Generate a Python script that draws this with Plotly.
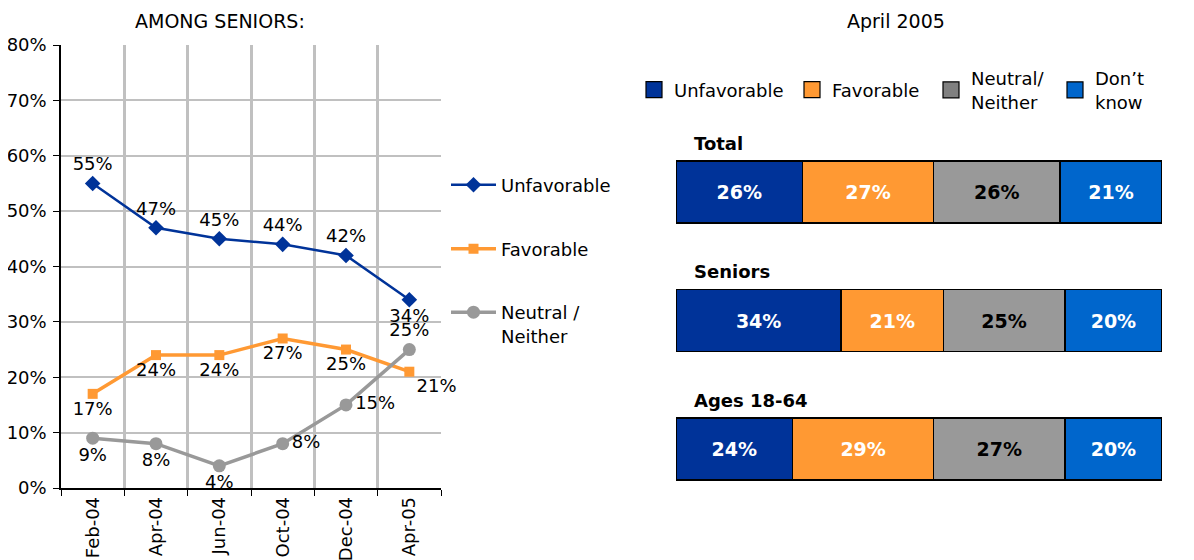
import plotly.graph_objects as go

# ---- data ----
months = ["Feb-04", "Apr-04", "Jun-04", "Oct-04", "Dec-04", "Apr-05"]
seniors_unfavorable = [55, 47, 45, 44, 42, 34]
seniors_favorable = [17, 24, 24, 27, 25, 21]
seniors_neutral = [9, 8, 4, 8, 15, 25]

groups = ["Total", "Seniors", "Ages 18-64"]
bar_unfavorable = [26, 34, 24]
bar_favorable = [27, 21, 29]
bar_neutral = [26, 25, 27]
bar_dontknow = [21, 20, 20]

FONT = "DejaVu Sans, Verdana, sans-serif"
FS = 18
NAVY = "#003399"
ORANGE = "#FF9933"
GRAY = "#999999"
BLUE = "#0066CC"
OFF = 8                      # page body margin
W, H = 1194 - OFF, 560 - OFF


def px(x):
    return (x - OFF) / W


def py(y):
    return 1 - (y - OFF) / H


fig = go.Figure()

# ---- left line chart ----
fig.add_trace(go.Scatter(
    x=months, y=seniors_unfavorable, name="Unfavorable", mode="lines+markers+text",
    line=dict(color=NAVY, width=2.5), marker=dict(symbol="diamond", size=12, color=NAVY),
    text=[f"{v}%" for v in seniors_unfavorable],
    textposition=["top center"] * 5 + ["bottom center"],
    textfont=dict(family=FONT, size=FS, color="black"),
    xaxis="x", yaxis="y", legend="legend", cliponaxis=False))
fig.add_trace(go.Scatter(
    x=months, y=seniors_favorable, name="Favorable", mode="lines+markers+text",
    line=dict(color=ORANGE, width=3.5), marker=dict(symbol="square", size=10, color=ORANGE),
    text=[f"{v}%" for v in seniors_favorable],
    textposition=["bottom center"] * 5 + ["bottom right"],
    textfont=dict(family=FONT, size=FS, color="black"),
    xaxis="x", yaxis="y", legend="legend2", cliponaxis=False))
fig.add_trace(go.Scatter(
    x=months, y=seniors_neutral, name="Neutral /<br>Neither", mode="lines+markers+text",
    line=dict(color=GRAY, width=3.5), marker=dict(symbol="circle", size=13, color=GRAY),
    text=[f"{v}%" for v in seniors_neutral],
    textposition=["bottom center", "bottom center", "bottom center", "middle right", "middle right", "top center"],
    textfont=dict(family=FONT, size=FS, color="black"),
    xaxis="x", yaxis="y", legend="legend3", cliponaxis=False))

# ---- right stacked bars ----
bar_specs = [
    ("Unfavorable", bar_unfavorable, NAVY, NAVY, "white", "legend4"),
    ("Favorable", bar_favorable, ORANGE, ORANGE, "white", "legend5"),
    ("Neutral/<br>Neither", bar_neutral, GRAY, "#808080", "black", "legend6"),
    ("Don’t<br>know", bar_dontknow, BLUE, BLUE, "white", "legend7"),
]
for name, vals, col, lcol, tcol, lg in bar_specs:
    fig.add_trace(go.Bar(
        y=groups, x=vals, name=name, orientation="h", width=0.48,
        marker=dict(color=col, line=dict(color="#000000", width=1.5)),
        text=[f"{v}%" for v in vals], textposition="inside", insidetextanchor="middle",
        textfont=dict(family=FONT, size=19, color=tcol, weight="bold"),
        xaxis="x2", yaxis="y2", showlegend=False))
    # legend swatch (legend-only entry)
    fig.add_trace(go.Scatter(
        x=[None], y=[None], name=name, mode="markers",
        marker=dict(symbol="square", size=16, color=lcol, line=dict(color="#000000", width=1.2)),
        xaxis="x2", yaxis="y2", legend=lg, showlegend=True, hoverinfo="skip"))

layout = dict(
    width=W, height=H, margin=dict(l=0, r=0, t=0, b=0, autoexpand=False),
    paper_bgcolor="white", plot_bgcolor="white",
    font=dict(family=FONT, size=FS, color="black"),
    barmode="stack", showlegend=True,
    xaxis=dict(domain=[px(61), px(441)], type="category", range=[-0.5, 5.5],
               tickson="boundaries", ticks="outside", ticklen=6, tickcolor="black",
               showline=True, linecolor="black", linewidth=1.5, automargin=False,
               showgrid=True, gridcolor="#C0C0C0", gridwidth=2.5,
               tickangle=-90, tickfont=dict(family=FONT, size=FS), zeroline=False),
    yaxis=dict(domain=[py(488), py(45)], range=[0, 80], dtick=10, ticksuffix="%",
               ticks="outside", ticklen=6, tickcolor="black", ticklabelstandoff=3,
               showline=True, linecolor="black", linewidth=1.5, automargin=False,
               showgrid=True, gridcolor="#C0C0C0", gridwidth=2, zeroline=False,
               tickfont=dict(family=FONT, size=FS)),
    xaxis2=dict(domain=[px(676), px(1162)], range=[0, 100], visible=False, anchor="y2"),
    yaxis2=dict(domain=[py(513.25), py(127.75)], range=[2.5, -0.5], visible=False, anchor="x2"),
    annotations=[
        dict(text="AMONG SENIORS:", x=px(220), y=py(21), xref="paper", yref="paper",
             xanchor="center", yanchor="middle", showarrow=False, borderpad=0,
             font=dict(family=FONT, size=19)),
        dict(text="April 2005", x=px(896), y=py(21), xref="paper", yref="paper",
             xanchor="center", yanchor="middle", showarrow=False, borderpad=0,
             font=dict(family=FONT, size=19)),
    ] + [
        dict(text=f"<b>{g}</b>", x=px(692), y=i - 0.38, xref="paper", yref="y2",
             xanchor="left", yanchor="middle", showarrow=False, font=dict(family=FONT, size=FS))
        for i, g in enumerate(groups)
    ],
)

leg_common = dict(font=dict(family=FONT, size=FS), bgcolor="rgba(0,0,0,0)",
                  xanchor="left", yanchor="middle", borderwidth=0)
layout["legend"] = dict(x=px(446), y=py(185), itemwidth=45, **leg_common)
layout["legend2"] = dict(x=px(446), y=py(249), itemwidth=45, **leg_common)
layout["legend3"] = dict(x=px(446), y=py(324), itemwidth=45, valign="top", **leg_common)
for lg, xs in zip(["legend4", "legend5", "legend6", "legend7"], [634, 792, 931, 1055]):
    layout[lg] = dict(x=px(xs), y=py(90), itemwidth=30, **leg_common)

fig.update_layout(**layout)
fig.write_html("out.html")
